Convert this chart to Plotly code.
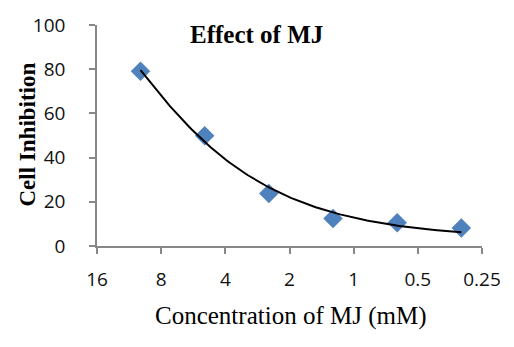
import numpy as np
import plotly.graph_objects as go

# Data
concentration_mM = [10, 5, 2.5, 1.25, 0.625, 0.3125]
cell_inhibition = [79.1, 49.9, 23.7, 12.4, 10.5, 8.2]
x_tick_vals = [16, 8, 4, 2, 1, 0.5, 0.25]
x_tick_text = ["16", "8", "4", "2", "1", "0.5", "0.25"]
y_tick_vals = [0, 20, 40, 60, 80, 100]

# Polynomial (order 2) trendline fitted to the data
coef = np.polyfit(concentration_mM, cell_inhibition, 2)
xs = np.geomspace(max(concentration_mM), min(concentration_mM), 120)
ys = np.polyval(coef, xs)

W, H = 514, 347
L, R, T, B = 97, 32, 23, 101
pw, ph = W - L - R, H - T - B

def px(xp):
    return (xp - L) / pw

def py(yp):
    return (H - B - yp) / ph

fig = go.Figure()
fig.add_trace(go.Scatter(
    x=concentration_mM, y=cell_inhibition, mode="markers",
    marker=dict(symbol="diamond", size=15, color="#4F81BD",
                line=dict(width=0)),
    showlegend=False, hoverinfo="skip"))
fig.add_trace(go.Scatter(
    x=xs, y=ys, mode="lines", line=dict(color="black", width=2),
    showlegend=False, hoverinfo="skip"))

axis_color = "#878787"
tick_font = dict(family="Open Sans", size=19, color="#111111")

fig.update_layout(
    width=W, height=H, margin=dict(l=L, r=R, t=T, b=B),
    paper_bgcolor="white", plot_bgcolor="white",
    xaxis=dict(type="log", range=[np.log10(16), np.log10(0.25)],
               tickvals=x_tick_vals, ticktext=x_tick_text,
               showgrid=False, zeroline=False, showline=True,
               linecolor=axis_color, linewidth=1.5,
               ticks="outside", ticklen=6, tickcolor=axis_color, tickwidth=1.5,
               tickfont=tick_font, ticklabelstandoff=9),
    yaxis=dict(range=[0, 100], tickvals=y_tick_vals,
               showgrid=False, zeroline=False, showline=True,
               linecolor=axis_color, linewidth=1.5,
               ticks="outside", ticklen=6, tickcolor=axis_color, tickwidth=1.5,
               tickfont=tick_font, ticklabelstandoff=20),
    annotations=[
        dict(text="<b>Effect of MJ</b>", xref="paper", yref="paper",
             x=px(256), y=py(33), xanchor="center", yanchor="middle",
             showarrow=False,
             font=dict(family="Liberation Serif", size=25, color="black")),
        dict(text="<b>Cell Inhibition</b>", xref="paper", yref="paper",
             x=px(27.5), y=py(134), xanchor="center", yanchor="middle",
             textangle=-90, showarrow=False,
             font=dict(family="Liberation Serif", size=23, color="black")),
        dict(text="Concentration of MJ (mM)", xref="paper", yref="paper",
             x=px(290), y=py(317), xanchor="center", yanchor="middle",
             showarrow=False,
             font=dict(family="Liberation Serif", size=25, color="black")),
    ],
)

fig.write_html("out.html")
